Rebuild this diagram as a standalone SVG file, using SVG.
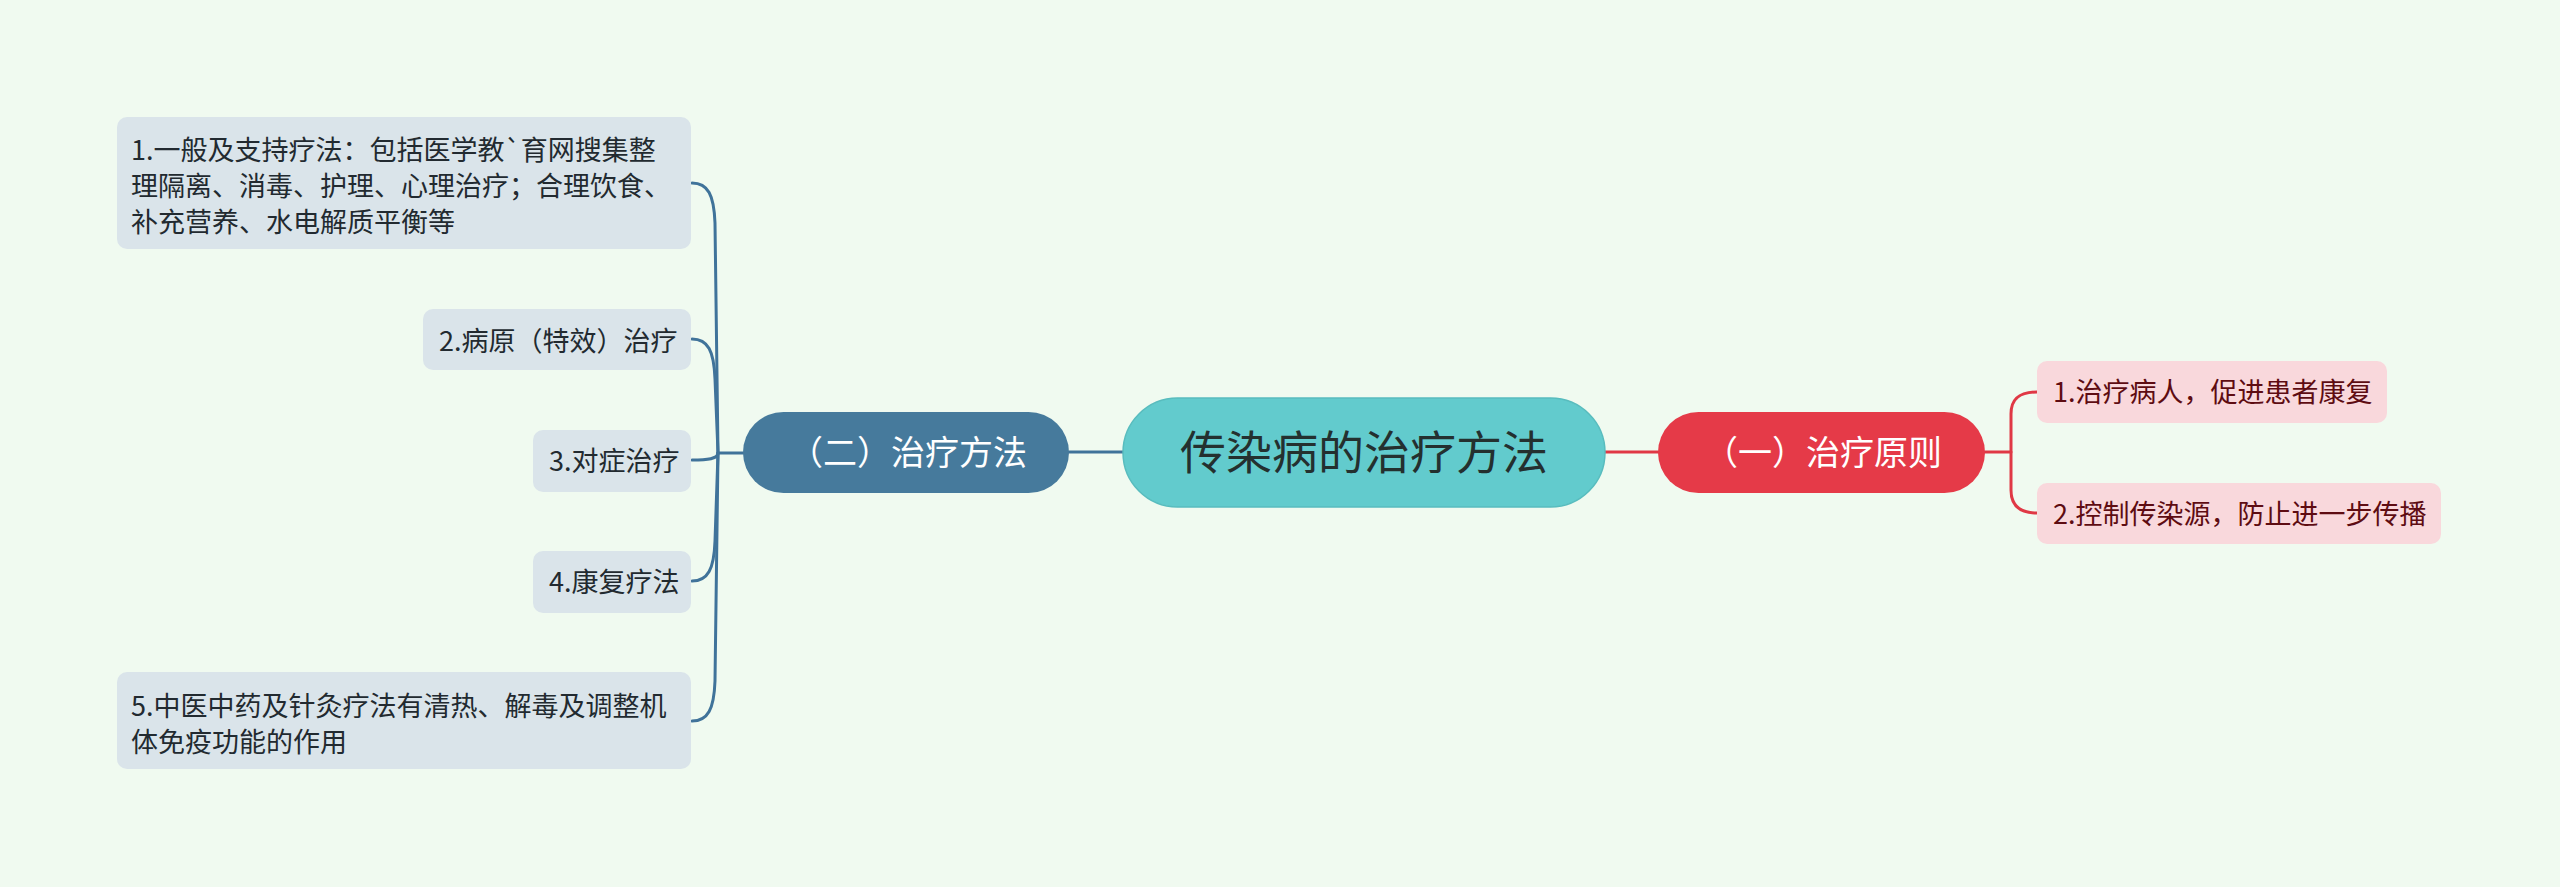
<svg xmlns="http://www.w3.org/2000/svg" width="2560" height="887" viewBox="0 0 2560 887">
<style>
text{font-family:"Noto Sans CJK SC","Noto Sans",sans-serif}
.lb rect{fill:#dae4ea}
.lb text{font-size:27px;fill:#222a30}
.rc rect{fill:#f9d8dc}
.rc text{font-size:27px;fill:#5e0c12}
.par text{font-size:34px;fill:#ffffff;text-anchor:middle}
.cb{fill:none;stroke:#40739a;stroke-width:3;stroke-linecap:round}
.cr{fill:none;stroke:#e03845;stroke-width:3;stroke-linecap:round}
</style>
<rect x="0" y="0" width="2560" height="887" fill="#f0faf0"/>
<g id="connectors">
<path class="cb" d="M1069 452 H1123"/>
<path class="cr" d="M1605 452 H1658"/>
<path class="cb" d="M743 453 H718"/>
<path class="cb" d="M692 183 C708 183 714 195 715 223 L718 453"/>
<path class="cb" d="M692 339 C708 339 714 351 715 379 L718 453"/>
<path class="cb" d="M692 460 C708 460 718 459 718 453"/>
<path class="cb" d="M692 581 C708 581 714 569 715 541 L718 453"/>
<path class="cb" d="M692 721 C708 721 714 709 715 681 L718 453"/>
<path class="cr" d="M1985 452 H2011"/>
<path class="cr" d="M2037 392 C2020 392 2011 398 2011 414 L2011 490 C2011 506 2020 513 2037 513"/>
</g>
<g id="center">
<rect x="1123" y="398" width="482" height="109" rx="54.5" fill="#62cbcd" stroke="#58bcbe" stroke-width="1.5"/>
<text x="1364" y="469" font-size="46" fill="#24302f" text-anchor="middle">传染病的治疗方法</text>
</g>
<g id="p2" class="par">
<rect x="743" y="412" width="326" height="81" rx="40.5" fill="#467a9c"/>
<text x="908" y="465">（二）治疗方法</text>
</g>
<g id="p1" class="par">
<rect x="1658" y="412" width="327" height="81" rx="40.5" fill="#e53a48"/>
<text x="1823" y="465">（一）治疗原则</text>
</g>
<g id="l1" class="lb">
<rect x="117" y="117" width="574" height="132" rx="10"/>
<text x="131" y="160">1.一般及支持疗法：包括医学教`育网搜集整</text>
<text x="131" y="196">理隔离、消毒、护理、心理治疗；合理饮食、</text>
<text x="131" y="232">补充营养、水电解质平衡等</text>
</g>
<g id="l2" class="lb">
<rect x="423" y="309" width="268" height="61" rx="10"/>
<text x="439" y="351">2.病原（特效）治疗</text>
</g>
<g id="l3" class="lb">
<rect x="533" y="430" width="158" height="62" rx="10"/>
<text x="549" y="471">3.对症治疗</text>
</g>
<g id="l4" class="lb">
<rect x="533" y="551" width="158" height="62" rx="10"/>
<text x="549" y="592">4.康复疗法</text>
</g>
<g id="l5" class="lb">
<rect x="117" y="672" width="574" height="97" rx="10"/>
<text x="131" y="716">5.中医中药及针灸疗法有清热、解毒及调整机</text>
<text x="131" y="752">体免疫功能的作用</text>
</g>
<g id="r1" class="rc">
<rect x="2037" y="361" width="350" height="62" rx="10"/>
<text x="2053" y="402">1.治疗病人，促进患者康复</text>
</g>
<g id="r2" class="rc">
<rect x="2037" y="483" width="404" height="61" rx="10"/>
<text x="2053" y="524">2.控制传染源，防止进一步传播</text>
</g>
</svg>
